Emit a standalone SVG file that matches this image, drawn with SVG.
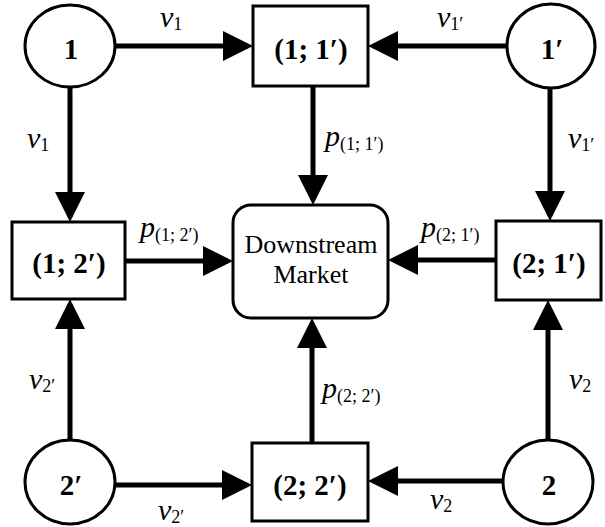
<svg xmlns="http://www.w3.org/2000/svg" width="605" height="527" viewBox="0 0 605 527">
<defs>
<marker id="ah" markerUnits="userSpaceOnUse" markerWidth="30" markerHeight="30" refX="25" refY="15" orient="auto" viewBox="0 0 30 30">
<path d="M0,0 L30,15 L0,30 Z" fill="#000"/>
</marker>
<style>
.nd{fill:#fff;stroke:#000;stroke-width:3}
text{font-family:'Liberation Serif','Times New Roman',Times,Tinos,'Nimbus Roman','DejaVu Serif','Noto Serif',serif}
.bl{font-weight:bold;font-size:29px;text-anchor:middle;fill:#000}
.rg{font-size:26px;text-anchor:middle;fill:#000}
.lb{font-size:30px;font-style:italic;fill:#000}
.sb{font-size:18px;font-style:normal}
.cn line{stroke:#000;stroke-width:5;marker-end:url(#ah)}
</style>
</defs>
<rect width="605" height="527" fill="#fff"/>
<g class="cn" id="connectors">
<line x1="116" y1="46" x2="248" y2="46"/>
<line x1="507" y1="46" x2="373" y2="46"/>
<line x1="70" y1="87" x2="70" y2="217"/>
<line x1="550" y1="88" x2="550" y2="216"/>
<line x1="70" y1="439" x2="70" y2="304"/>
<line x1="548" y1="439" x2="548" y2="305"/>
<line x1="116" y1="485" x2="247" y2="485"/>
<line x1="503" y1="481" x2="373" y2="481"/>
<line x1="313" y1="86" x2="313" y2="200"/>
<line x1="312" y1="443" x2="312" y2="323"/>
<line x1="125" y1="261" x2="228" y2="261"/>
<line x1="496" y1="260" x2="393" y2="260"/>
</g>
<g id="labels">
<text class="lb" x="160" y="27">v<tspan class="sb" dy="3">1</tspan></text>
<text class="lb" x="437" y="27">v<tspan class="sb" dy="3">1′</tspan></text>
<text class="lb" x="27" y="148">v<tspan class="sb" dy="3">1</tspan></text>
<text class="lb" x="568" y="148">v<tspan class="sb" dy="3">1′</tspan></text>
<text class="lb" x="325" y="146">p<tspan class="sb" dy="4">(1; 1′)</tspan></text>
<text class="lb" x="140" y="237">p<tspan class="sb" dy="4">(1; 2′)</tspan></text>
<text class="lb" x="421" y="237">p<tspan class="sb" dy="4">(2; 1′)</tspan></text>
<text class="lb" x="29" y="389">v<tspan class="sb" dy="3">2′</tspan></text>
<text class="lb" x="322" y="398">p<tspan class="sb" dy="4">(2; 2′)</tspan></text>
<text class="lb" x="569" y="389">v<tspan class="sb" dy="3">2</tspan></text>
<text class="lb" x="158" y="520">v<tspan class="sb" dy="3">2′</tspan></text>
<text class="lb" x="430" y="509">v<tspan class="sb" dy="3">2</tspan></text>
</g>
<g id="n1"><ellipse class="nd" cx="70" cy="46" rx="45" ry="41"/><text class="bl" x="71" y="59">1</text></g>
<g id="n1p"><ellipse class="nd" cx="551" cy="46" rx="44" ry="42"/><text class="bl" x="552" y="59">1′</text></g>
<g id="n2p"><ellipse class="nd" cx="70" cy="482" rx="45" ry="42"/><text class="bl" x="71" y="495">2′</text></g>
<g id="n2"><ellipse class="nd" cx="548" cy="482" rx="45" ry="42"/><text class="bl" x="549" y="495">2</text></g>
<g id="b11"><rect class="nd" x="253" y="6" width="115" height="80"/><text class="bl" x="311" y="59">(1; 1′)</text></g>
<g id="b12"><rect class="nd" x="12" y="222" width="113" height="77"/><text class="bl" x="69" y="273">(1; 2′)</text></g>
<g id="b21"><rect class="nd" x="496" y="221" width="105" height="79"/><text class="bl" x="549" y="273">(2; 1′)</text></g>
<g id="b22"><rect class="nd" x="252" y="443" width="116" height="78"/><text class="bl" x="310" y="495">(2; 2′)</text></g>
<g id="dm"><rect class="nd" x="233" y="205" width="155" height="113" rx="18"/><text class="rg" x="311" y="253">Downstream</text><text class="rg" x="311" y="283">Market</text></g>
</svg>
